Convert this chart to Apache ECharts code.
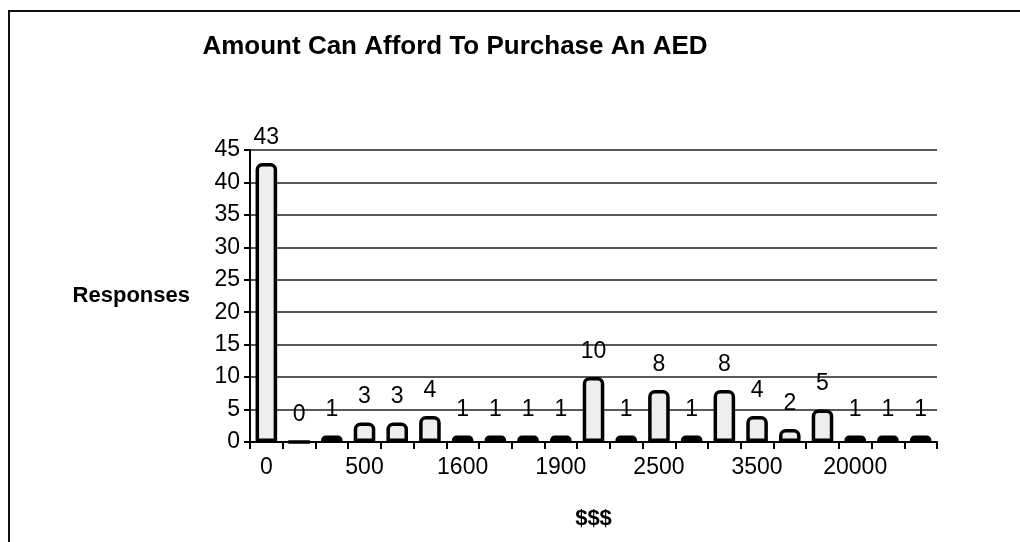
<!DOCTYPE html>
<html>
<head>
<meta charset="utf-8">
<script src="https://cdn.jsdelivr.net/npm/echarts@6/dist/echarts.min.js"></script>
<style>
html,body{margin:0;padding:0;background:#fff;}
#frame{position:absolute;left:8px;top:10px;width:1020px;height:542px;border-left:2px solid #111;border-top:2px solid #111;}
#c{position:absolute;left:0;top:0;width:1020px;height:542px;}
</style>
</head>
<body>
<div id="frame"></div>
<div id="c"></div>
<script>
const categories = ["0","100","250","500","750","1000","1600","1700","1800","1900","2000","2200","2500","2800","3000","3500","4000","5000","20000","25000","30000"];
const responses = [43,0,1,3,3,4,1,1,1,1,10,1,8,1,8,4,2,5,1,1,1];
const yTicks = {min:0, max:45, interval:5};

const FONT = 'Liberation Sans, Arial, sans-serif';
const chart = echarts.init(document.getElementById('c'), null, {renderer:'canvas'});
chart.setOption({
  backgroundColor:'transparent',
  animation:false,
  title:{
    text:'Amount Can Afford To Purchase An AED',
    left:450, top:29, textAlign:'center',
    textStyle:{fontFamily:FONT, fontWeight:'bold', fontSize:26, color:'#000'}
  },
  grid:{left:250, right:83, top:150, bottom:100},
  xAxis:{
    type:'category',
    data:categories,
    name:'$$$',
    nameLocation:'middle',
    nameGap:66,
    nameTextStyle:{fontFamily:FONT, fontWeight:'bold', fontSize:22, color:'#000'},
    axisLine:{show:true, lineStyle:{color:'#000', width:2}},
    axisTick:{show:true, length:7, interval:0, lineStyle:{color:'#000', width:2}},
    axisLabel:{interval:2, margin:14, fontFamily:FONT, fontSize:23, color:'#000'}
  },
  yAxis:{
    type:'value',
    min:yTicks.min, max:yTicks.max, interval:yTicks.interval,
    name:'Responses',
    nameLocation:'middle',
    nameRotate:0,
    nameGap:60,
    nameTextStyle:{fontFamily:FONT, fontWeight:'bold', fontSize:22, color:'#000'},
    axisLine:{show:true, lineStyle:{color:'#000', width:2}},
    axisTick:{show:true, length:6, lineStyle:{color:'#000', width:2}},
    axisLabel:{margin:10, fontFamily:FONT, fontSize:23, color:'#000'},
    splitLine:{show:true, lineStyle:{color:'#222', width:1.5}}
  },
  series:[{
    type:'bar',
    data:responses,
    barWidth:'66%',
    itemStyle:{color:'#eeeeee', borderColor:'#000', borderWidth:3.5, borderRadius:[5,5,0,0]},
    label:{show:true, position:'top', distance:14, fontFamily:FONT, fontSize:23, color:'#000'}
  }]
});
</script>
</body>
</html>
